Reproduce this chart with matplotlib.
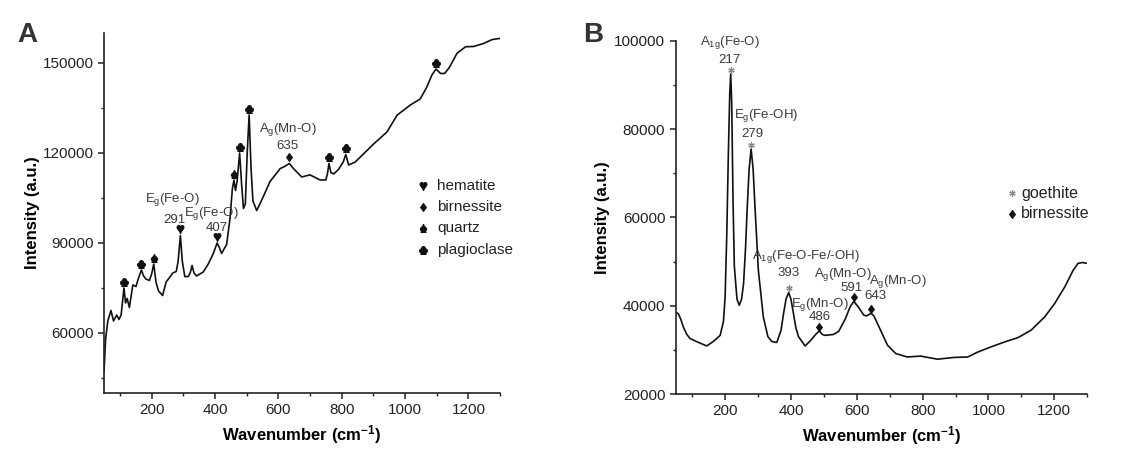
import numpy as np
import matplotlib
matplotlib.use("Agg")
import matplotlib.pyplot as plt
from matplotlib.ticker import MultipleLocator
from matplotlib.transforms import offset_copy

plt.rcParams['font.family'] = ['Liberation Sans', 'DejaVu Sans']
plt.rcParams['mathtext.fontset'] = 'custom'
plt.rcParams['mathtext.rm'] = 'Liberation Sans'
plt.rcParams['mathtext.bf'] = 'Liberation Sans:bold'
plt.rcParams['mathtext.default'] = 'regular'

# --- spectrum A (hematite / birnessite / quartz / plagioclase) ---
wn_a = [50, 55, 62, 72, 80, 90, 97, 104, 113, 118, 123, 130, 141, 151, 158,
        168, 175, 182, 193, 200, 207, 214, 222, 235, 246, 257, 267, 278, 284,
        291, 297, 305, 316, 322, 328, 334, 342, 363, 379, 395, 407, 414, 421,
        437, 448, 455, 460, 465, 470, 478, 484, 490, 496, 502, 508, 514, 520,
        532, 553, 574, 606, 620, 635, 648, 674, 700, 732, 750, 755, 760, 766,
        775, 790, 805, 813, 822, 843, 870, 901, 943, 975, 1017, 1048, 1069,
        1085, 1098, 1112, 1125, 1140, 1164, 1191, 1217, 1248, 1275, 1300]
int_a = [47000, 58000, 64000, 67500, 64000, 66000, 64500, 66000, 75000, 70000,
         71500, 68500, 76000, 75500, 78000, 81000, 79000, 78000, 77500, 79500,
         83000, 77000, 74000, 72500, 77000, 78500, 80000, 80500, 84000, 92500,
         84000, 78800, 78800, 80000, 82500, 80000, 79000, 80300, 83000, 86500,
         90000, 88500, 86500, 89500, 98500, 108000, 111000, 107500, 110500,
         120000, 110000, 101500, 103000, 120000, 132700, 115000, 104000,
         100800, 105500, 110500, 114800, 115500, 116500, 114800, 112000,
         112700, 111000, 111000, 113000, 116500, 113500, 113000, 114500,
         117000, 119500, 116000, 117000, 119800, 123000, 127000, 132600,
         136000, 138000, 142000, 146000, 148000, 146500, 146500, 148500,
         153200, 155400, 155500, 156500, 157800, 158200]

# peak symbols in A
marks_a_x = [113, 168, 207, 291, 407, 460, 478, 508, 635, 760, 813, 1098]
marks_a_sym = ['\u2663', '\u2663', '\u2660', '\u2665', '\u2665', '\u2660',
               '\u2663', '\u2663', '\u2666', '\u2663', '\u2663', '\u2663']
peaks_a = [291, 407, 635]
modes_a = [r'E$_g$(Fe-O)', r'E$_g$(Fe-O)', r'A$_g$(Mn-O)']
legend_a = [('\u2665', 'hematite'), ('\u2666', 'birnessite'),
            ('\u2660', 'quartz'), ('\u2663', 'plagioclase')]

# --- spectrum B (goethite / birnessite) ---
wn_b = [50, 58, 66, 73, 83, 93, 113, 144, 164, 185, 195, 200, 205, 210, 214,
        217, 220, 224, 228, 236, 243, 250, 256, 262, 267, 273, 279, 285, 291,
        301, 316, 330, 342, 357, 370, 377, 385, 393, 400, 407, 415, 423, 443,
        458, 475, 486, 495, 504, 529, 545, 565, 580, 591, 606, 621, 630, 643,
        652, 667, 693, 718, 753, 794, 845, 896, 937, 967, 1008, 1049, 1090,
        1130, 1171, 1201, 1232, 1257, 1272, 1285, 1300]
int_b = [38500, 38200, 36800, 35200, 33600, 32600, 31900, 30900, 31900, 33300,
         36500, 42000, 56000, 75000, 88000, 92500, 86000, 64000, 49000, 41500,
         40100, 41500, 45000, 53000, 62000, 71000, 75500, 71000, 62000, 48000,
         37500, 33000, 31900, 31700, 34500, 38000, 41500, 43000, 41500, 38500,
         35000, 33000, 30900, 32000, 33500, 34300, 33500, 33300, 33500, 34200,
         37000, 39800, 41000, 39600, 37900, 37700, 38300, 37700, 35300, 31100,
         29200, 28400, 28600, 27900, 28300, 28400, 29500, 30700, 31800, 32800,
         34500, 37500, 40500, 44300, 48000, 49600, 49800, 49600]

goethite_b = [217, 279, 393]
birnessite_b = [486, 591, 643]
peaks_b = [217, 279, 393, 486, 591, 643]
modes_b = [r'A$_{1g}$(Fe-O)', r'E$_g$(Fe-OH)', r'A$_{1g}$(Fe-O-Fe/-OH)',
           r'E$_g$(Mn-O)', r'A$_g$(Mn-O)', r'A$_g$(Mn-O)']

ann_color = '#3a3a3a'
ast_color = '#8a8a8a'

fig = plt.figure(figsize=(11.43, 4.54), dpi=100)
ax_a = fig.add_axes([0.091, 0.1344, 0.3465, 0.793])
ax_b = fig.add_axes([0.5912, 0.132, 0.360, 0.778])


def style_axes(ax, ylim, ymaj, ymin):
    ax.set_xlim(50, 1300)
    ax.set_ylim(*ylim)
    ax.xaxis.set_major_locator(MultipleLocator(200))
    ax.xaxis.set_minor_locator(MultipleLocator(100))
    ax.yaxis.set_major_locator(MultipleLocator(ymaj))
    ax.yaxis.set_minor_locator(MultipleLocator(ymin))
    for side in ['top', 'right']:
        ax.spines[side].set_visible(False)
    for side in ['left', 'bottom']:
        ax.spines[side].set_linewidth(1.2)
        ax.spines[side].set_color('#222222')
    ax.tick_params(which='major', direction='out', length=4, width=1.1,
                   labelsize=11, pad=3.5, colors='#222222')
    ax.tick_params(which='minor', direction='out', length=2.5, width=1.0,
                   colors='#222222')
    ax.set_xlabel(r'Wavenumber (cm$^{\mathbf{-1}}$)', fontsize=12,
                  fontweight='bold', labelpad=4)
    ax.set_ylabel('Intensity (a.u.)', fontsize=12, fontweight='bold')


# ---- panel A ----
style_axes(ax_a, (40000, 160000), 30000, 15000)
ax_a.plot(wn_a, int_a, color='#111111', lw=1.2)
ax_a.yaxis.set_label_coords(-0.162, 0.5)

up_a = offset_copy(ax_a.transData, fig=fig, x=0, y=4.5, units='points')
for x, s in zip(marks_a_x, marks_a_sym):
    ax_a.plot([x], [np.interp(x, wn_a, int_a)], ls='none', marker='$' + s + '$',
              ms=5.5, color='#111111', transform=up_a)

off_a = {291: ((-4.3, 11.2), (-5.8, 25.6)),
         407: ((0.0, 10.6), (-4.5, 21.0)),
         635: ((-1.4, 12.8), (-1.0, 24.1))}
for x, name in zip(peaks_a, modes_a):
    y = np.interp(x, wn_a, int_a)
    (ndx, ndy), (mdx, mdy) = off_a[x]
    ax_a.annotate(str(x), (x, y), xytext=(ndx, ndy), textcoords='offset points',
                  ha='center', va='center', fontsize=9.5, color=ann_color)
    ax_a.annotate(name, (x, y), xytext=(mdx, mdy), textcoords='offset points',
                  ha='center', va='center', fontsize=9.5, color=ann_color)

for i, (s, name) in enumerate(legend_a):
    yy = 0.575 - i * 0.059
    ax_a.plot([0.806], [yy], transform=ax_a.transAxes, ls='none',
              marker='$' + s + '$', ms=5.5, color='#111111')
    ax_a.text(0.841, yy, name, transform=ax_a.transAxes, fontsize=11,
              va='center', ha='left', color='#222222')

# ---- panel B ----
style_axes(ax_b, (20000, 100000), 20000, 10000)
ax_b.plot(wn_b, int_b, color='#111111', lw=1.2)
ax_b.yaxis.set_label_coords(-0.16, 0.5)

up_b = offset_copy(ax_b.transData, fig=fig, x=0, y=3.0, units='points')
ax_b.plot(goethite_b, np.interp(goethite_b, wn_b, int_b), ls='none',
          marker=(6, 2, 0), ms=4.5, mew=0.9, color=ast_color, transform=up_b)
ax_b.plot(birnessite_b, np.interp(birnessite_b, wn_b, int_b), ls='none',
          marker='$\u2666$', ms=5.5, color='#111111', transform=up_b)

off_b = {217: ((-1.0, 10.4), (-0.6, 23.0)),
         279: ((1.0, 10.5), (10.6, 23.8)),
         393: ((0.0, 13.7), (12.2, 25.7)),
         486: ((0.0, 9.7), (0.4, 19.1)),
         591: ((-1.4, 9.5), (-8.0, 19.2)),
         643: ((3.0, 12.2), (19.5, 23.0))}
for x, name in zip(peaks_b, modes_b):
    y = np.interp(x, wn_b, int_b)
    (ndx, ndy), (mdx, mdy) = off_b[x]
    ax_b.annotate(str(x), (x, y), xytext=(ndx, ndy), textcoords='offset points',
                  ha='center', va='center', fontsize=9.5, color=ann_color)
    ax_b.annotate(name, (x, y), xytext=(mdx, mdy), textcoords='offset points',
                  ha='center', va='center', fontsize=9.5, color=ann_color)

ax_b.plot([0.818], [0.568], transform=ax_b.transAxes, ls='none',
          marker=(6, 2, 0), ms=4.5, mew=0.9, color=ast_color)
ax_b.plot([0.818], [0.511], transform=ax_b.transAxes, ls='none',
          marker='$\u2666$', ms=5.5, color='#111111')
ax_b.text(0.839, 0.568, 'goethite', transform=ax_b.transAxes, fontsize=11.5,
          va='center', ha='left', color='#222222')
ax_b.text(0.839, 0.511, 'birnessite', transform=ax_b.transAxes, fontsize=11.5,
          va='center', ha='left', color='#222222')

# panel letters
fig.text(0.015, 0.9075, 'A', fontsize=20, fontweight='bold', color='#333333',
         va='baseline')
fig.text(0.510, 0.9075, 'B', fontsize=20, fontweight='bold', color='#333333',
         va='baseline')

fig.savefig('out.png', dpi=100)
